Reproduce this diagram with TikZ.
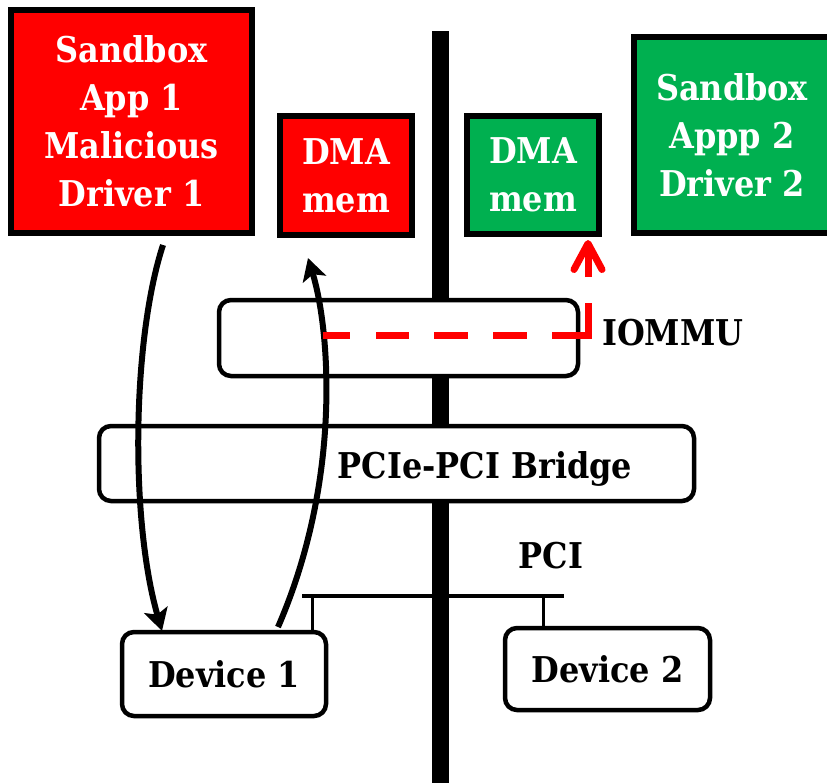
\documentclass[tikz,border=0pt]{standalone}
\usepackage{fontspec}
\setmainfont{DejaVu Serif Condensed}
\usetikzlibrary{arrows.meta}
\definecolor{alertred}{HTML}{FF0000}
\definecolor{safegreen}{HTML}{00B050}

\begin{document}
\begin{tikzpicture}[x=1pt,y=-1pt,
  lbl/.style={font=\fontsize{35.5}{48}\selectfont\bfseries},
  sandbox/.style={draw=black, line width=6pt, text=white, align=center, inner sep=0pt, lbl},
  hwbox/.style={draw=black, fill=white, line width=4.5pt, rounded corners=12pt, inner sep=0pt, lbl},
  plain/.style={lbl, inner sep=0pt},
  flow/.style={line width=6pt, -{Stealth[length=22pt,width=24pt,inset=5pt]}},
  leak/.style={alertred, line width=7pt,
    dash pattern=on 27pt off 26pt on 33pt off 25pt on 34pt off 25pt on 34pt off 25pt on 68pt off 26pt on 200pt,
    -{Straight Barb[length=26pt,width=28pt,round]}}
]
\clip (0,0) rectangle (827,782);

% system bus
\coordinate (bustop) at (440.5,31);
\coordinate (busbot) at (440.5,800);
\draw[line width=17pt] (bustop) -- (busbot);

% IOMMU and bridge
\node[hwbox, minimum width=359pt, minimum height=76pt] (iommu) at (398.5,338) {};
\node[hwbox, minimum width=595pt, minimum height=75pt] (bridge) at (396.5,463.5) {};
\node[plain, anchor=base] (bridgetxt) at (485,478) {PCIe-PCI Bridge};
\node[plain, anchor=base west] (iommutxt) at (602,345) {IOMMU};
\node[plain, anchor=base] (pcitxt) at (551,568) {PCI};

% PCI bus and devices
\coordinate (pcil) at (302,596);
\coordinate (pcir) at (564,596);
\draw[line width=4.5pt] (pcil) -- (pcir);
\node[hwbox, minimum width=204pt, minimum height=84pt] (dev1) at (224,674) {Device 1};
\node[hwbox, minimum width=205pt, minimum height=82pt] (dev2) at (607.5,669) {Device 2};
\coordinate (tap1) at (312,596);
\coordinate (tap2) at (543,596);
\draw[line width=3pt] (tap1) -- (tap1 |- dev1.north);
\draw[line width=3pt] (tap2) -- (tap2 |- dev2.north);

% sandboxes and DMA memory
\node[sandbox, fill=alertred, minimum width=241pt, minimum height=223pt] (app1) at (131.5,121.5) {Sandbox\\App 1\\Malicious\\Driver 1};
\node[sandbox, fill=alertred, minimum width=132pt, minimum height=119pt] (dma1) at (346,175.5) {DMA\\mem};
\node[sandbox, fill=safegreen, minimum width=132pt, minimum height=118pt] (dma2) at (533,175) {DMA\\mem};
\node[sandbox, fill=safegreen, minimum width=196pt, minimum height=196pt] (app2) at (732,135) {Sandbox\\Appp 2\\Driver 2};

% driver programs device, device writes DMA memory
\coordinate (a1s) at (163,245);
\coordinate (a1e) at (162,631);
\draw[flow] (a1s) .. controls (132,340) and (130,520) .. (a1e);
\coordinate (a2s) at (278,627);
\coordinate (a2e) at (308,258);
\draw[flow] (a2s) .. controls (342,480) and (330,330) .. (a2e);

% blocked path through the IOMMU
\coordinate (leaks) at (323,335);
\coordinate (leake) at (588,240);
\draw[leak] (leaks) -| (leake);
\end{tikzpicture}
\end{document}
